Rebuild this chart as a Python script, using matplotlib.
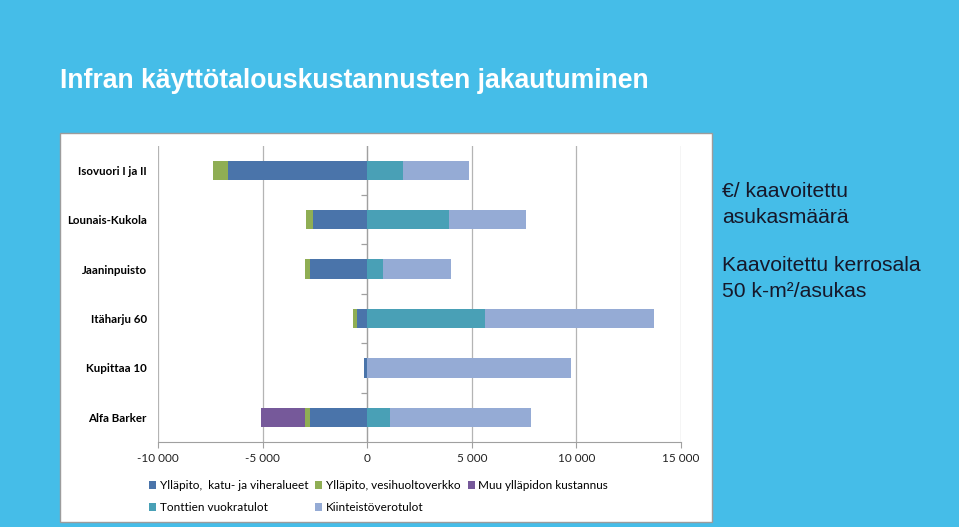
import matplotlib
matplotlib.use("Agg")
import matplotlib.pyplot as plt
import matplotlib.patches as patches
from matplotlib.ticker import FuncFormatter
import numpy as np

# data (euro / asukas)
areas = ["Isovuori I ja II", "Lounais-Kukola", "Jaaninpuisto",
         "Itäharju 60", "Kupittaa 10", "Alfa Barker"]
katu = [-6650, -2580, -2740, -470, -150, -2725]
vesi = [-700, -345, -220, -200, 0, -240]
muu = [0, 0, 0, 0, 0, -2095]
vuokra = [1700, 3930, 760, 5650, 0, 1075]
kiint = [3180, 3680, 3260, 8040, 9750, 6765]

series_names = ["Ylläpito,  katu- ja viheralueet", "Ylläpito, vesihuoltoverkko",
                "Muu ylläpidon kustannus", "Tonttien vuokratulot", "Kiinteistöverotulot"]
colors = ["#4A74AA", "#8FAE54", "#76599A", "#49A0B6", "#95ABD5"]
xticks = [-10000, -5000, 0, 5000, 10000, 15000]

title = "Infran käyttötalouskustannusten jakautuminen"
note1 = "€/ kaavoitettu\nasukasmäärä"
note2 = "Kaavoitettu kerrosala\n50 k-m²/asukas"

W, H = 959, 527
fig = plt.figure(figsize=(W / 100, H / 100), dpi=100)
fig.patch.set_facecolor("#45BDE8")

# white chart box
box = patches.Rectangle((60 / W, 1 - 522 / H), (712 - 60) / W, (522 - 133) / H,
                        transform=fig.transFigure, facecolor="white",
                        edgecolor="#9c9c9c", lw=1.0, zorder=0)
fig.patches.append(box)

fig.text(60 / W, 1 - 88 / H, title, fontsize=19.2, fontweight="bold",
         color="white", family="Liberation Sans", va="baseline", ha="left")
fig.text(722 / W, 1 - 182 / H, note1, fontsize=15.2, color="#16182a",
         family="Liberation Sans", va="top", ha="left", linespacing=1.45)
fig.text(722 / W, 1 - 256 / H, note2, fontsize=15.2, color="#16182a",
         family="Liberation Sans", va="top", ha="left", linespacing=1.45)

ax = fig.add_axes([158 / W, 1 - 442 / H, (681 - 158) / W, (442 - 145.5) / H])
ax.set_zorder(2)
ax.set_facecolor("white")

y = np.arange(len(areas))
h = 0.39
katu_a = np.array(katu)
vesi_a = np.array(vesi)
muu_a = np.array(muu)
vuokra_a = np.array(vuokra)
kiint_a = np.array(kiint)

bars = []
bars.append(ax.barh(y, katu_a, height=h, color=colors[0], zorder=3))
bars.append(ax.barh(y, vesi_a, left=katu_a, height=h, color=colors[1], zorder=3))
bars.append(ax.barh(y, muu_a, left=katu_a + vesi_a, height=h, color=colors[2], zorder=3))
bars.append(ax.barh(y, vuokra_a, height=h, color=colors[3], zorder=3))
bars.append(ax.barh(y, kiint_a, left=vuokra_a, height=h, color=colors[4], zorder=3))

ax.set_xlim(xticks[0], xticks[-1])
ax.set_ylim(len(areas) - 0.5, -0.5)
ax.set_xticks(xticks)
ax.xaxis.set_major_formatter(FuncFormatter(lambda v, p: f"{int(v):,}".replace(",", " ")))
ax.grid(axis="x", color="#b4b4b4", lw=0.9, zorder=0)

ax.set_yticks(y)
ax.set_yticklabels(areas, fontweight="bold", fontsize=8.3, family="Lato")
ax.tick_params(axis="y", length=0, pad=8)
ax.tick_params(axis="x", length=4, color="#a0a0a0", labelsize=8.5, pad=4,
               labelcolor="#222222")
for lab in ax.get_xticklabels():
    lab.set_family("Lato")

for s in ["top", "right", "left"]:
    ax.spines[s].set_visible(False)
ax.spines["bottom"].set_color("#a0a0a0")

# category axis at zero, with small ticks between categories
ax.axvline(0, color="#a0a0a0", lw=0.9, zorder=2)
ax.plot(np.zeros(len(areas) - 1), y[:-1] + 0.5, ls="none", marker=0, ms=4,
        color="#a0a0a0", mew=0.9, zorder=2, clip_on=False)

order = [0, 3, 1, 4, 2]
leg = fig.legend([bars[i] for i in order], [series_names[i] for i in order],
                 ncol=3, loc="upper left", bbox_to_anchor=(149 / W, 1 - 480 / H),
                 frameon=False, prop={"family": "Lato", "size": 8.5},
                 handlelength=0.6, handleheight=0.6, handletextpad=0.3,
                 columnspacing=0.6, labelspacing=0.95, borderaxespad=0,
                 borderpad=0)
leg.set_zorder(3)

fig.savefig("out.png", dpi=100, facecolor=fig.get_facecolor())
